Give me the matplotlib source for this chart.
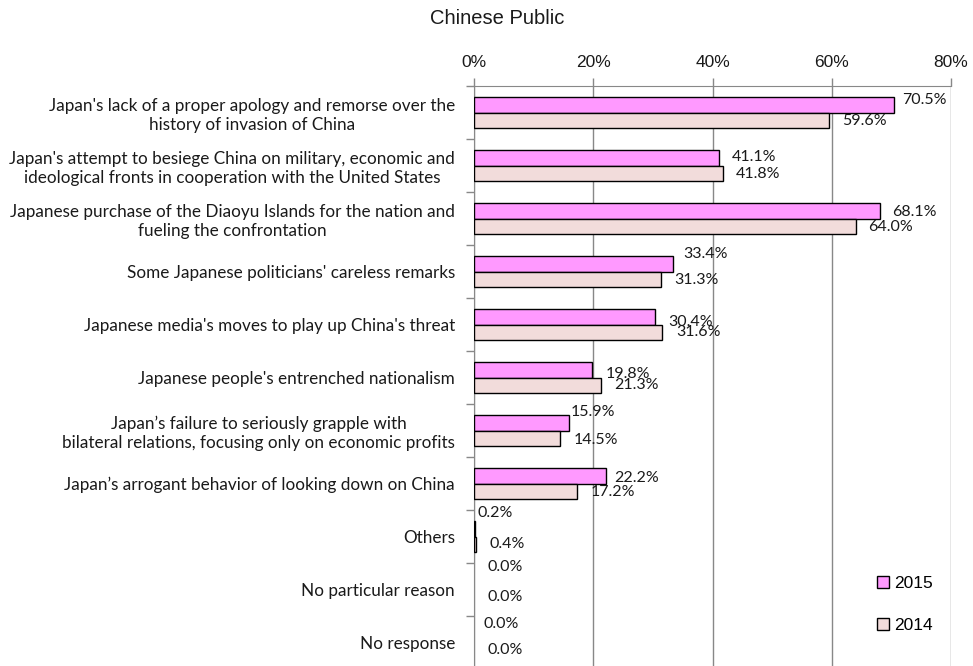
import matplotlib
matplotlib.use("Agg")
import matplotlib.pyplot as plt
from matplotlib import font_manager
import numpy as np

categories = [
    "Japan's lack of a proper apology and remorse over the\nhistory of invasion of China",
    "Japan's attempt to besiege China on military, economic and\nideological fronts in cooperation with the United States",
    "Japanese purchase of the Diaoyu Islands for the nation and\nfueling the confrontation",
    "Some Japanese politicians' careless remarks",
    "Japanese media's moves to play up China's threat",
    "Japanese people's entrenched nationalism",
    "Japan\u2019s failure to seriously grapple with\nbilateral relations, focusing only on economic profits",
    "Japan\u2019s arrogant behavior of looking down on China",
    "Others",
    "No particular reason",
    "No response",
]
values_2015 = [70.5, 41.1, 68.1, 33.4, 30.4, 19.8, 15.9, 22.2, 0.2, 0.0, 0.0]
values_2014 = [59.6, 41.8, 64.0, 31.3, 31.6, 21.3, 14.5, 17.2, 0.4, 0.0, 0.0]
series_names = ["2015", "2014"]
xticks = [0, 20, 40, 60, 80]

installed = {f.name for f in font_manager.fontManager.ttflist}
narrow = "Liberation Sans Narrow" if "Liberation Sans Narrow" in installed else "Liberation Sans"
body = "Lato"

color_2015 = "#FF99FF"
color_2014 = "#F2DCDB"

fig = plt.figure(figsize=(9.73, 6.66), dpi=100)
ax = fig.add_axes([474 / 973, -3 / 666, (951 - 474) / 973, (666 - 86 + 3) / 666])

n = len(categories)
pos = np.arange(n)
bh = 0.29


def edge_widths(vals):
    # zero-length bars get no outline so the axis line stays clean
    return [1.0 if v > 0 else 0.0 for v in vals]


ax.barh(pos - bh / 2, values_2015, height=bh, color=color_2015, edgecolor="black",
        linewidth=edge_widths(values_2015), label=series_names[0], zorder=3)
ax.barh(pos + bh / 2, values_2014, height=bh, color=color_2014, edgecolor="black",
        linewidth=edge_widths(values_2014), label=series_names[1], zorder=3)

ax.set_xlim(0, 80)
ax.set_ylim(n - 0.5, -0.5)

# data-label nudges (pixels right, pixels up), hand-placed to avoid collisions
nudge_2015 = [(8, 5), (13, 1), (12, -1), (10, 10), (13, -5), (14, -4), (2, 11), (8, -2), (2, 16), (14, 15), (9, 11)]
nudge_2014 = [(13, -1), (13, -1), (13, -1), (14, -1), (14, 0), (13, 0), (13, -2), (14, -1), (13, 0), (13, 0), (13, 0)]
px = 72 / 100
for vals, nudges, sign in ((values_2015, nudge_2015, -1), (values_2014, nudge_2014, 1)):
    for i, (v, (dx, dy)) in enumerate(zip(vals, nudges)):
        ax.annotate(f"{v:.1f}%", (v, i + sign * bh / 2), xytext=(dx * px, dy * px),
                    textcoords="offset points", ha="left", va="center",
                    fontsize=11.5, family=body, color="#1a1a1a", zorder=4)

# x axis on top
ax.xaxis.tick_top()
ax.set_xticks(xticks)
ax.set_xticklabels([f"{t}%" for t in xticks], family=narrow, fontsize=12.5, color="#1a1a1a")
ax.tick_params(axis="x", which="major", length=6, width=1, color="#888888", pad=5.5)
ax.grid(axis="x", color="#888888", linewidth=1, zorder=0)

# category labels centred in each band, tick marks on band boundaries
ax.set_yticks(pos)
ax.set_yticklabels(categories, family=body, fontsize=12.3, color="#1a1a1a")
for lab in ax.get_yticklabels():
    lab.set_multialignment("center")
ax.tick_params(axis="y", which="major", length=0, pad=13.7)
ax.set_yticks(np.arange(n + 1) - 0.5, minor=True)
ax.tick_params(axis="y", which="minor", length=6, width=1, color="#888888")

for side in ["right", "bottom"]:
    ax.spines[side].set_visible(False)
ax.spines["top"].set_color("#888888")
ax.spines["left"].set_color("#888888")

ax.legend(loc="lower right", bbox_to_anchor=(0.995, 0.035), frameon=False,
          prop={"family": narrow, "size": 12.5}, handlelength=0.7, handleheight=0.7,
          labelspacing=1.55, handletextpad=0.3)

fig.text(497 / 973, 1 - 18 / 666, "Chinese Public", ha="center", va="center",
         family=narrow, fontsize=14.5, color="#1a1a1a")

fig.savefig("out.png", dpi=100)
